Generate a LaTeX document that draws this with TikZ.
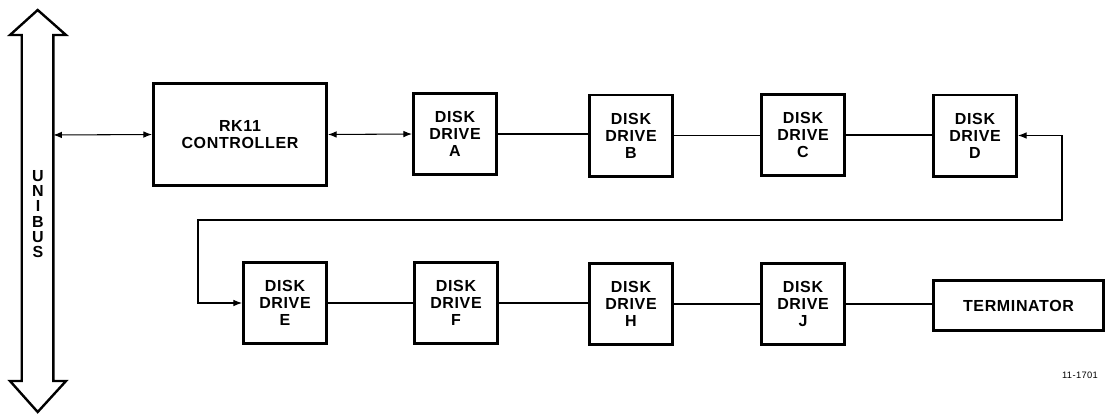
\documentclass[tikz,border=0pt]{standalone}
\usepackage{fontspec}
\setsansfont[LetterSpace=4]{Liberation Sans}
\usetikzlibrary{arrows.meta}

\tikzset{
  unit/.style={draw, line width=2pt, align=center, inner sep=0pt,
    font=\sffamily\bfseries\fontsize{12}{12.75}\selectfont},
  drive/.style={unit, minimum width=62.5pt, minimum height=61pt},
  link/.style={line width=0.8pt},
  duplex/.style={link, {Latex[length=6.5pt,width=5pt]}-{Latex[length=6.5pt,width=5pt]}},
}

\begin{document}
\begin{tikzpicture}[x=0.75pt,y=0.75pt,yscale=-1,xscale=1]
\useasboundingbox (0,0) rectangle (1107,415);

%Shape: Double Arrow [id:bus]
\draw [line width=1.8pt, line join=miter]  (37.7,10) -- (66,35) -- (53.3,35) -- (53.3,381) -- (66,381) -- (37.7,412) -- (10,381) -- (21.7,381) -- (21.7,35) -- (10,35) -- cycle ;
\node (bustext) [align=center, font=\sffamily\bfseries\fontsize{12}{11.5}\selectfont] at (38,214) {U\\N\\I\\B\\U\\S};
\coordinate (busR) at (53.3,135) ;

%Shape: Rectangle [id:controller]
\node (ctrl) [unit, minimum width=130pt, minimum height=76.5pt] at (240,134.5) {RK11\\CONTROLLER};

%Shape: Rectangle [id:drives top row]
\node (A) [drive] at (455,134) {DISK\\DRIVE\\A};
\node (B) [drive] at (631,135.5) {DISK\\DRIVE\\B};
\node (C) [drive] at (803,135) {DISK\\DRIVE\\C};
\node (D) [drive] at (975,135.5) {DISK\\DRIVE\\D};

%Shape: Rectangle [id:drives bottom row]
\node (E) [drive] at (285,303) {DISK\\DRIVE\\E};
\node (F) [drive] at (456,303) {DISK\\DRIVE\\F};
\node (H) [drive] at (631,304) {DISK\\DRIVE\\H};
\node (J) [drive] at (803,304) {DISK\\DRIVE\\J};
\node (term) [unit, minimum width=127.5pt, minimum height=37.5pt] at (1018.5,305.5) {TERMINATOR};

%Straight Lines [id:bus to controller]
\draw [duplex]  (busR) -- (ctrl.west) ;
\draw [duplex]  (ctrl.east) -- (A.west) ;

%Straight Lines [id:daisy chain]
\draw [link]  (A.east) -- (B.west |- A.east) ;
\draw [link]  (B.east) -- (C.west |- B.east) ;
\draw [link]  (C.east) -- (D.west |- C.east) ;
\draw [link]  (E.east) -- (F.west) ;
\draw [link]  (F.east) -- (H.west |- F.east) ;
\draw [link]  (H.east) -- (J.west |- H.east) ;
\draw [link]  (J.east) -- (term.west |- J.east) ;

%Straight Lines [id:return loop]
\coordinate (loopR) at (1062,220) ;
\coordinate (loopL) at (198,220) ;
\draw [duplex]  (D.east) -| (loopR) -- (loopL) |- (E.west) ;

% Text Node
\node (fignum) [font=\sffamily\fontsize{7}{8}\selectfont] at (1080,375) {11-1701};

\end{tikzpicture}
\end{document}
